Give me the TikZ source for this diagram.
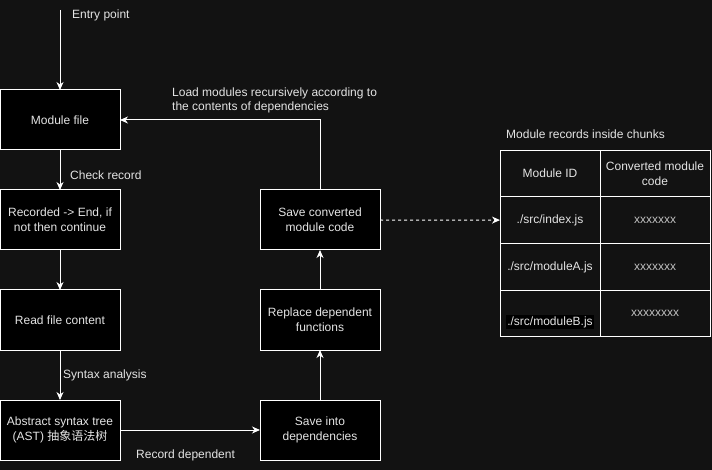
\documentclass[tikz,border=0pt]{standalone}
\usepackage{fontspec}
\setmainfont{Liberation Sans}
\newfontfamily\cjk{Noto Sans CJK SC}
\usepackage{xcolor}
\usepackage{tikz}
\usetikzlibrary{arrows.meta, positioning}
\definecolor{canvas}{HTML}{121212}
\definecolor{ink}{HTML}{E4E4E4}
\definecolor{faint}{HTML}{C0C0C0}
\tikzstyle{arrow} = [draw=white, line width=1pt, -{Stealth[length=8pt,width=7pt,inset=2.5pt]}]
\tikzstyle{stage} = [rectangle, minimum width=120pt, minimum height=60pt, inner sep=0pt, outer sep=0pt, draw=white, line width=1pt, fill=black, text=ink, align=center, font=\fontsize{12}{15}\selectfont]
\tikzstyle{cell} = [rectangle, inner sep=0pt, outer sep=0pt, minimum height=46.75pt, draw=white, line width=1pt, fill=canvas, text=ink, align=center, font=\fontsize{12}{15}\selectfont]
\tikzstyle{note} = [anchor=west, inner sep=0pt, text=ink, align=left, font=\fontsize{12}{14}\selectfont]

\begin{document}
\begin{tikzpicture}[x=1pt, y=-1pt]
    % Canvas
    \fill[canvas] (0,0) rectangle (712,470);
    \useasboundingbox (0,0) rectangle (712,470);

    % Left column
    \coordinate (entry) at (60,10);
    \node[stage] (file) at (60,120) {Module file};
    \node[stage] (rec) at (60,220) {Recorded -> End, if\\not then continue};
    \node[stage] (read) at (60,320) {Read file content};
    \node[stage] (ast) at (60,430) {Abstract syntax tree\\(AST) {\cjk 抽象语法树}};

    % Right column
    \node[stage] (deps) at (320,430) {Save into\\dependencies};
    \node[stage] (repl) at (320,320) {Replace dependent\\functions};
    \node[stage] (conv) at (320,220) {Save converted\\module code};

    % Labels
    \node[note] (lentry) at (72,15) {Entry point};
    \node[note] (lcheck) at (70,175) {Check record};
    \node[note] (lsyntax) at (63,375) {Syntax analysis};
    \node[note] (lrecord) at (136,455) {Record dependent};
    \node[note] (lload) at (172,100) {Load modules recursively according to\\the contents of dependencies};

    % Flow
    \draw[arrow] (entry) -- (file.north);
    \draw[arrow] (file.south) -- (rec.north);
    \draw[arrow] (rec.south) -- (read.north);
    \draw[arrow] (read.south) -- (ast.north);
    \draw[arrow] (ast.east) -- (deps.west);
    \draw[arrow] (deps.north) -- (repl.south);
    \draw[arrow] (repl.north) -- (conv.south);
    \draw[arrow] (conv.north) |- (file.east);

    % Module records table
    \node[note] (ltable) at (506,134) {Module records inside chunks};
    \node[cell, minimum width=100pt] (idH) at (550,173.4) {Module ID};
    \node[cell, minimum width=110pt] (codeH) at (655,173.4) {Converted module\\code};
    \node[cell, minimum width=100pt] (idI) at (550,220.1) {./src/index.js};
    \node[cell, minimum width=110pt, text=faint] (codeI) at (655,220.1) {xxxxxxx};
    \node[cell, minimum width=100pt] (idA) at (550,266.9) {./src/moduleA.js};
    \node[cell, minimum width=110pt, text=faint] (codeA) at (655,266.9) {xxxxxxx};
    \node[cell, minimum width=100pt] (idB) at (550,313.6) {};
    \node[cell, minimum width=110pt, text=faint] (codeB) at (655,313.6) {xxxxxxxx};
    \node[fill=black, inner sep=1pt, text=ink, font=\fontsize{12}{15}\selectfont] (nameB) at (550,322) {./src/moduleB.js};

    \draw[arrow, dash pattern=on 3pt off 3pt] (conv.east) -- (idI.west);
\end{tikzpicture}
\end{document}
